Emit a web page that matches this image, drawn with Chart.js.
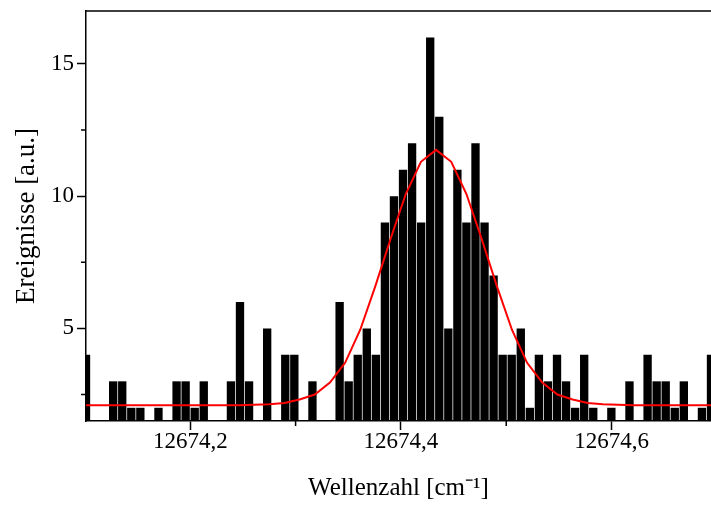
<!DOCTYPE html>
<html>
<head>
<meta charset="utf-8">
<script src="https://cdn.jsdelivr.net/npm/chart.js@4.4.0/dist/chart.umd.min.js"></script>
<style>
html, body { margin: 0; padding: 0; background: #fff; }
#wrap { width: 711px; height: 507px; }
</style>
</head>
<body>
<div id="wrap"><canvas id="histChart"></canvas></div>
<script>
// histogram: bin centres (cm^-1) and counts
var binCenters = [
    12674.1010, 12674.1096, 12674.1182, 12674.1268, 12674.1354, 12674.1440, 12674.1526, 12674.1612,
    12674.1698, 12674.1784, 12674.1870, 12674.1956, 12674.2042, 12674.2128, 12674.2214, 12674.2300,
    12674.2386, 12674.2472, 12674.2558, 12674.2644, 12674.2730, 12674.2816, 12674.2902, 12674.2988,
    12674.3074, 12674.3160, 12674.3246, 12674.3332, 12674.3418, 12674.3504, 12674.3590, 12674.3676,
    12674.3762, 12674.3848, 12674.3934, 12674.4020, 12674.4106, 12674.4192, 12674.4278, 12674.4364,
    12674.4450, 12674.4536, 12674.4622, 12674.4708, 12674.4794, 12674.4880, 12674.4966, 12674.5052,
    12674.5138, 12674.5224, 12674.5310, 12674.5396, 12674.5482, 12674.5568, 12674.5654, 12674.5740,
    12674.5826, 12674.5912, 12674.5998, 12674.6084, 12674.6170, 12674.6256, 12674.6342, 12674.6428,
    12674.6514, 12674.6600, 12674.6686, 12674.6772, 12674.6858, 12674.6944
];
var counts = [
    4, 1, 1, 3, 3, 2, 2, 1, 2, 1, 3, 3, 2, 3, 1, 1, 3, 6, 3, 1,
    5, 1, 4, 4, 1, 3, 1, 1, 6, 3, 4, 5, 4, 9, 10, 11, 12, 9, 16, 13,
    5, 11, 9, 12, 9, 7, 4, 4, 5, 2, 4, 3, 4, 3, 2, 4, 2, 1, 2, 1,
    3, 1, 4, 3, 3, 2, 3, 1, 2, 4
];

// gaussian fit curve (red)
var fitX = [
    12674.0878, 12674.2462, 12674.2606, 12674.2750, 12674.2894, 12674.3038, 12674.3182, 12674.3326,
    12674.3470, 12674.3614, 12674.3758, 12674.3902, 12674.4046, 12674.4190, 12674.4334, 12674.4478,
    12674.4622, 12674.4766, 12674.4910, 12674.5054, 12674.5198, 12674.5342, 12674.5486, 12674.5630,
    12674.5774, 12674.5918, 12674.6062, 12674.6206, 12674.7070
];
var fitY = [
    2.1, 2.1, 2.11, 2.13, 2.18, 2.31, 2.5, 2.95,
    3.7, 4.95, 6.61, 8.39, 10.08, 11.3, 11.75, 11.3,
    10.08, 8.39, 6.61, 4.95, 3.7, 2.95, 2.5, 2.31,
    2.18, 2.13, 2.11, 2.1, 2.1
];

var xMajorTicks = [12674.2, 12674.4, 12674.6];
var xMinorTicks = [12674.3, 12674.5];
var yMajorTicks = [5, 10, 15];
var yMinorTicks = [2.5, 7.5, 12.5];

var serif = "'Liberation Serif', 'Times New Roman', serif";

// top frame line + short minor ticks
var frameTicks = {
    id: 'frameTicks',
    afterDraw: function (chart) {
        var c = chart.ctx, a = chart.chartArea;
        var xs = chart.scales.x, ys = chart.scales.y;
        c.save();
        c.strokeStyle = '#000';
        c.lineWidth = 1.5;
        c.beginPath();
        c.moveTo(a.left, a.top);
        c.lineTo(a.right, a.top);
        xMinorTicks.forEach(function (v) {
            var px = xs.getPixelForValue(v);
            c.moveTo(px, a.bottom);
            c.lineTo(px, a.bottom + 5);
        });
        yMinorTicks.forEach(function (v) {
            var py = ys.getPixelForValue(v);
            c.moveTo(a.left, py);
            c.lineTo(a.left - 5, py);
        });
        c.stroke();
        c.restore();
    }
};

var ctx = document.getElementById('histChart').getContext('2d');
var histChart = new Chart(ctx, {
    type: 'bar',
    data: {
        datasets: [{
            type: 'line',
            data: fitX.map(function (x, i) { return { x: x, y: fitY[i] }; }),
            borderColor: '#ff0000',
            borderWidth: 2,
            pointRadius: 0,
            tension: 0,
            order: 0
        }, {
            type: 'bar',
            data: binCenters.map(function (x, i) { return { x: x, y: counts[i] }; }),
            backgroundColor: '#000',
            borderWidth: 0,
            barPercentage: 0.92,
            categoryPercentage: 1,
            order: 1
        }]
    },
    options: {
        responsive: true,
        maintainAspectRatio: false,
        animation: false,
        devicePixelRatio: 1,
        layout: { padding: { top: 11, left: 0, right: 0, bottom: 0 } },
        plugins: {
            legend: { display: false },
            tooltip: { enabled: false }
        },
        scales: {
            x: {
                type: 'linear',
                offset: false,
                min: binCenters[0],
                max: binCenters[binCenters.length - 1],
                afterBuildTicks: function (s) {
                    s.ticks = xMajorTicks.map(function (v) { return { value: v }; });
                },
                afterFit: function (s) {
                    s.height = 86;
                    s.paddingLeft = 0;
                    s.paddingRight = 0;
                },
                ticks: {
                    autoSkip: false,
                    maxRotation: 0,
                    padding: -2,
                    color: '#000',
                    font: { family: serif, size: 23 },
                    callback: function (v) { return Number(v).toFixed(1).replace('.', ','); }
                },
                grid: { offset: false, drawOnChartArea: false, tickLength: 9, tickColor: '#000', tickWidth: 1.5 },
                border: { color: '#000', width: 1.5 },
                title: {
                    display: true,
                    text: 'Wellenzahl [cm\u207B\u00B9]',
                    color: '#000',
                    font: { family: serif, size: 25 },
                    padding: { top: 0, bottom: 4 }
                }
            },
            y: {
                min: 1.5,
                max: 17,
                afterBuildTicks: function (s) {
                    s.ticks = yMajorTicks.map(function (v) { return { value: v }; });
                },
                afterFit: function (s) {
                    s.width = 86;
                    s.paddingTop = 0;
                    s.paddingBottom = 0;
                },
                ticks: {
                    padding: 3,
                    color: '#000',
                    font: { family: serif, size: 23 }
                },
                grid: { drawOnChartArea: false, tickLength: 9, tickColor: '#000', tickWidth: 1.5 },
                border: { color: '#000', width: 1.5 },
                title: {
                    display: true,
                    text: 'Ereignisse [a.u.]',
                    color: '#000',
                    font: { family: serif, size: 27 },
                    padding: { top: 11, bottom: 0 }
                }
            }
        }
    },
    plugins: [frameTicks]
});
</script>
</body>
</html>
